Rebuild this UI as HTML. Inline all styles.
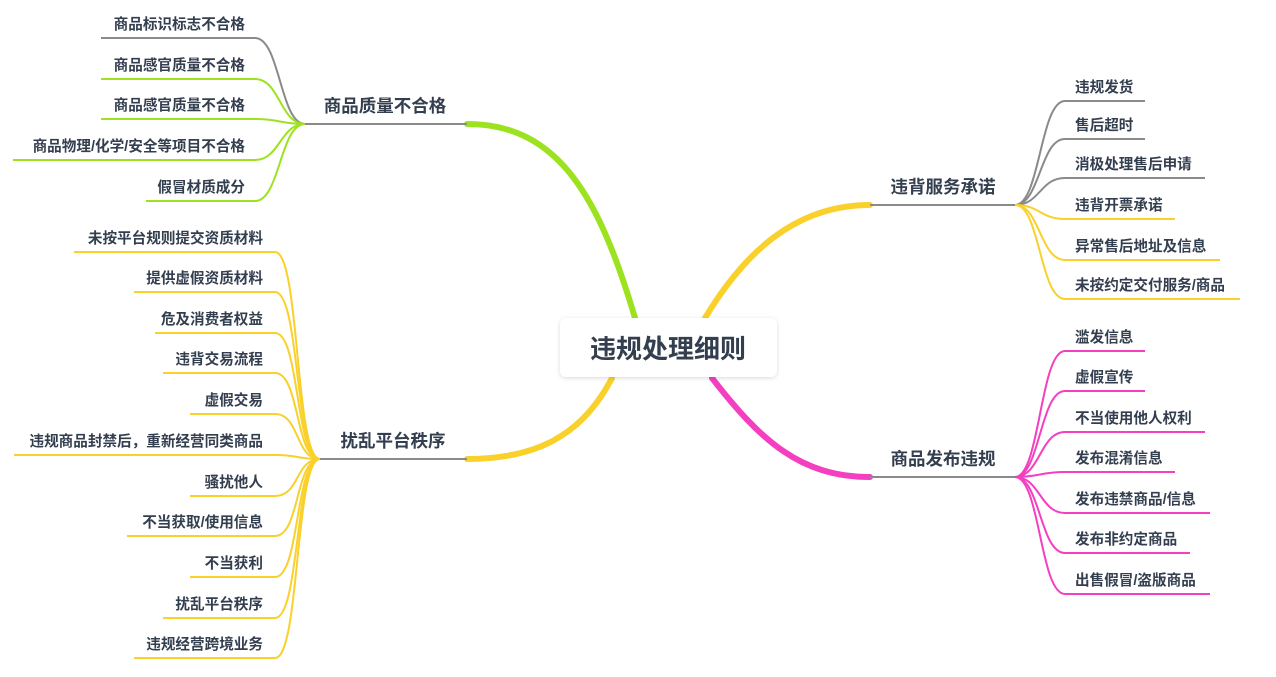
<!DOCTYPE html>
<html><head><meta charset="utf-8"><style>
html,body{margin:0;padding:0;background:#fff;}
svg text{font-family:"Liberation Sans","Noto Sans CJK SC",sans-serif;fill:#333e4f;font-weight:bold;}
.l{font-size:14.6px;}
.m{font-size:17.5px;}
</style></head><body>
<svg width="1276" height="672" viewBox="0 0 1276 672" xmlns="http://www.w3.org/2000/svg">
<defs><filter id="sh" x="-10%" y="-20%" width="120%" height="140%"><feDropShadow dx="0" dy="1" stdDeviation="2" flood-color="#000" flood-opacity="0.15"/></filter></defs>
<g fill="none" stroke-linecap="round">
<path d="M635,318 C600,200 560,124 467,124" stroke="#9de21f" stroke-width="6"/>
<path d="M612,378 C580,440 530,459 467,459" stroke="#f9d12a" stroke-width="6"/>
<path d="M705,318 C740,260 790,205 870,205" stroke="#f9d12a" stroke-width="6"/>
<path d="M712,378 C760,440 800,477 870,477" stroke="#f43fc0" stroke-width="6"/>
</g>
<g fill="none" stroke-width="2">
<line x1="305" y1="124" x2="467" y2="124" stroke="#8a8a8a"/>
<line x1="320" y1="459" x2="467" y2="459" stroke="#8a8a8a"/>
<line x1="870" y1="205" x2="1015" y2="205" stroke="#8a8a8a"/>
<line x1="870" y1="477" x2="1015" y2="477" stroke="#8a8a8a"/>
<path d="M305,124 C280,124 280,38 255,38 L101,38" stroke="#8a8a8a"/>
<path d="M305,124 C280,124 280,79 255,79 L101,79" stroke="#9de21f"/>
<path d="M305,124 C280,124 280,119 255,119 L101,119" stroke="#9de21f"/>
<path d="M305,124 C280,124 280,160 255,160 L13,160" stroke="#9de21f"/>
<path d="M305,124 C280,124 280,201 255,201 L146,201" stroke="#9de21f"/>
<g stroke="#f9d12a">
<path d="M320,459 C295,459 300,252 275,252 L74,252"/>
<path d="M320,459 C295,459 300,292 275,292 L134,292"/>
<path d="M320,459 C295,459 300,333 275,333 L155,333"/>
<path d="M320,459 C295,459 300,373 275,373 L163,373"/>
<path d="M320,459 C295,459 300,414 275,414 L190,414"/>
<path d="M320,459 C295,459 300,455 275,455 L14,455"/>
<path d="M320,459 C295,459 300,496 275,496 L190,496"/>
<path d="M320,459 C295,459 300,536 275,536 L127,536"/>
<path d="M320,459 C295,459 300,577 275,577 L190,577"/>
<path d="M320,459 C295,459 300,618 275,618 L163,618"/>
<path d="M320,459 C295,459 300,658 275,658 L134,658"/>
</g>
<path d="M1015,205 C1040,205 1040,101 1065,101 L1145,101" stroke="#8a8a8a"/>
<path d="M1015,205 C1040,205 1040,139 1065,139 L1145,139" stroke="#8a8a8a"/>
<path d="M1015,205 C1040,205 1040,178 1065,178 L1205,178" stroke="#8a8a8a"/>
<path d="M1015,205 C1040,205 1040,219 1065,219 L1175,219" stroke="#f9d12a"/>
<path d="M1015,205 C1040,205 1040,260 1065,260 L1220,260" stroke="#f9d12a"/>
<path d="M1015,205 C1040,205 1040,299 1065,299 L1240,299" stroke="#f9d12a"/>
<g stroke="#f43fc0">
<path d="M1015,477 C1040,477 1040,351 1065,351 L1145,351"/>
<path d="M1015,477 C1040,477 1040,391 1065,391 L1145,391"/>
<path d="M1015,477 C1040,477 1040,432 1065,432 L1205,432"/>
<path d="M1015,477 C1040,477 1040,472 1065,472 L1175,472"/>
<path d="M1015,477 C1040,477 1040,513 1065,513 L1210,513"/>
<path d="M1015,477 C1040,477 1040,553 1065,553 L1190,553"/>
<path d="M1015,477 C1040,477 1040,594 1065,594 L1210,594"/>
</g>
</g>
<rect x="560" y="318" width="217" height="59" rx="6" fill="#fff" filter="url(#sh)"/>
<text x="668" y="358" text-anchor="middle" style="font-size:26px">违规处理细则</text>
<text class="m" x="385" y="112" text-anchor="middle">商品质量不合格</text>
<text class="m" x="393" y="447" text-anchor="middle">扰乱平台秩序</text>
<text class="m" x="943" y="193" text-anchor="middle">违背服务承诺</text>
<text class="m" x="943" y="465" text-anchor="middle">商品发布违规</text>
<g text-anchor="end">
<text class="l" x="245" y="29">商品标识标志不合格</text>
<text class="l" x="245" y="70">商品感官质量不合格</text>
<text class="l" x="245" y="110">商品感官质量不合格</text>
<text class="l" x="245" y="151">商品物理/化学/安全等项目不合格</text>
<text class="l" x="245" y="192">假冒材质成分</text>
<text class="l" x="263" y="243">未按平台规则提交资质材料</text>
<text class="l" x="263" y="283">提供虚假资质材料</text>
<text class="l" x="263" y="324">危及消费者权益</text>
<text class="l" x="263" y="364">违背交易流程</text>
<text class="l" x="263" y="405">虚假交易</text>
<text class="l" x="263" y="446">违规商品封禁后，重新经营同类商品</text>
<text class="l" x="263" y="487">骚扰他人</text>
<text class="l" x="263" y="527">不当获取/使用信息</text>
<text class="l" x="263" y="568">不当获利</text>
<text class="l" x="263" y="609">扰乱平台秩序</text>
<text class="l" x="263" y="649">违规经营跨境业务</text>
</g>
<g>
<text class="l" x="1075" y="92">违规发货</text>
<text class="l" x="1075" y="130">售后超时</text>
<text class="l" x="1075" y="169">消极处理售后申请</text>
<text class="l" x="1075" y="210">违背开票承诺</text>
<text class="l" x="1075" y="251">异常售后地址及信息</text>
<text class="l" x="1075" y="290">未按约定交付服务/商品</text>
<text class="l" x="1075" y="342">滥发信息</text>
<text class="l" x="1075" y="382">虚假宣传</text>
<text class="l" x="1075" y="423">不当使用他人权利</text>
<text class="l" x="1075" y="463">发布混淆信息</text>
<text class="l" x="1075" y="504">发布违禁商品/信息</text>
<text class="l" x="1075" y="544">发布非约定商品</text>
<text class="l" x="1075" y="585">出售假冒/盗版商品</text>
</g>
</svg>
</body></html>
